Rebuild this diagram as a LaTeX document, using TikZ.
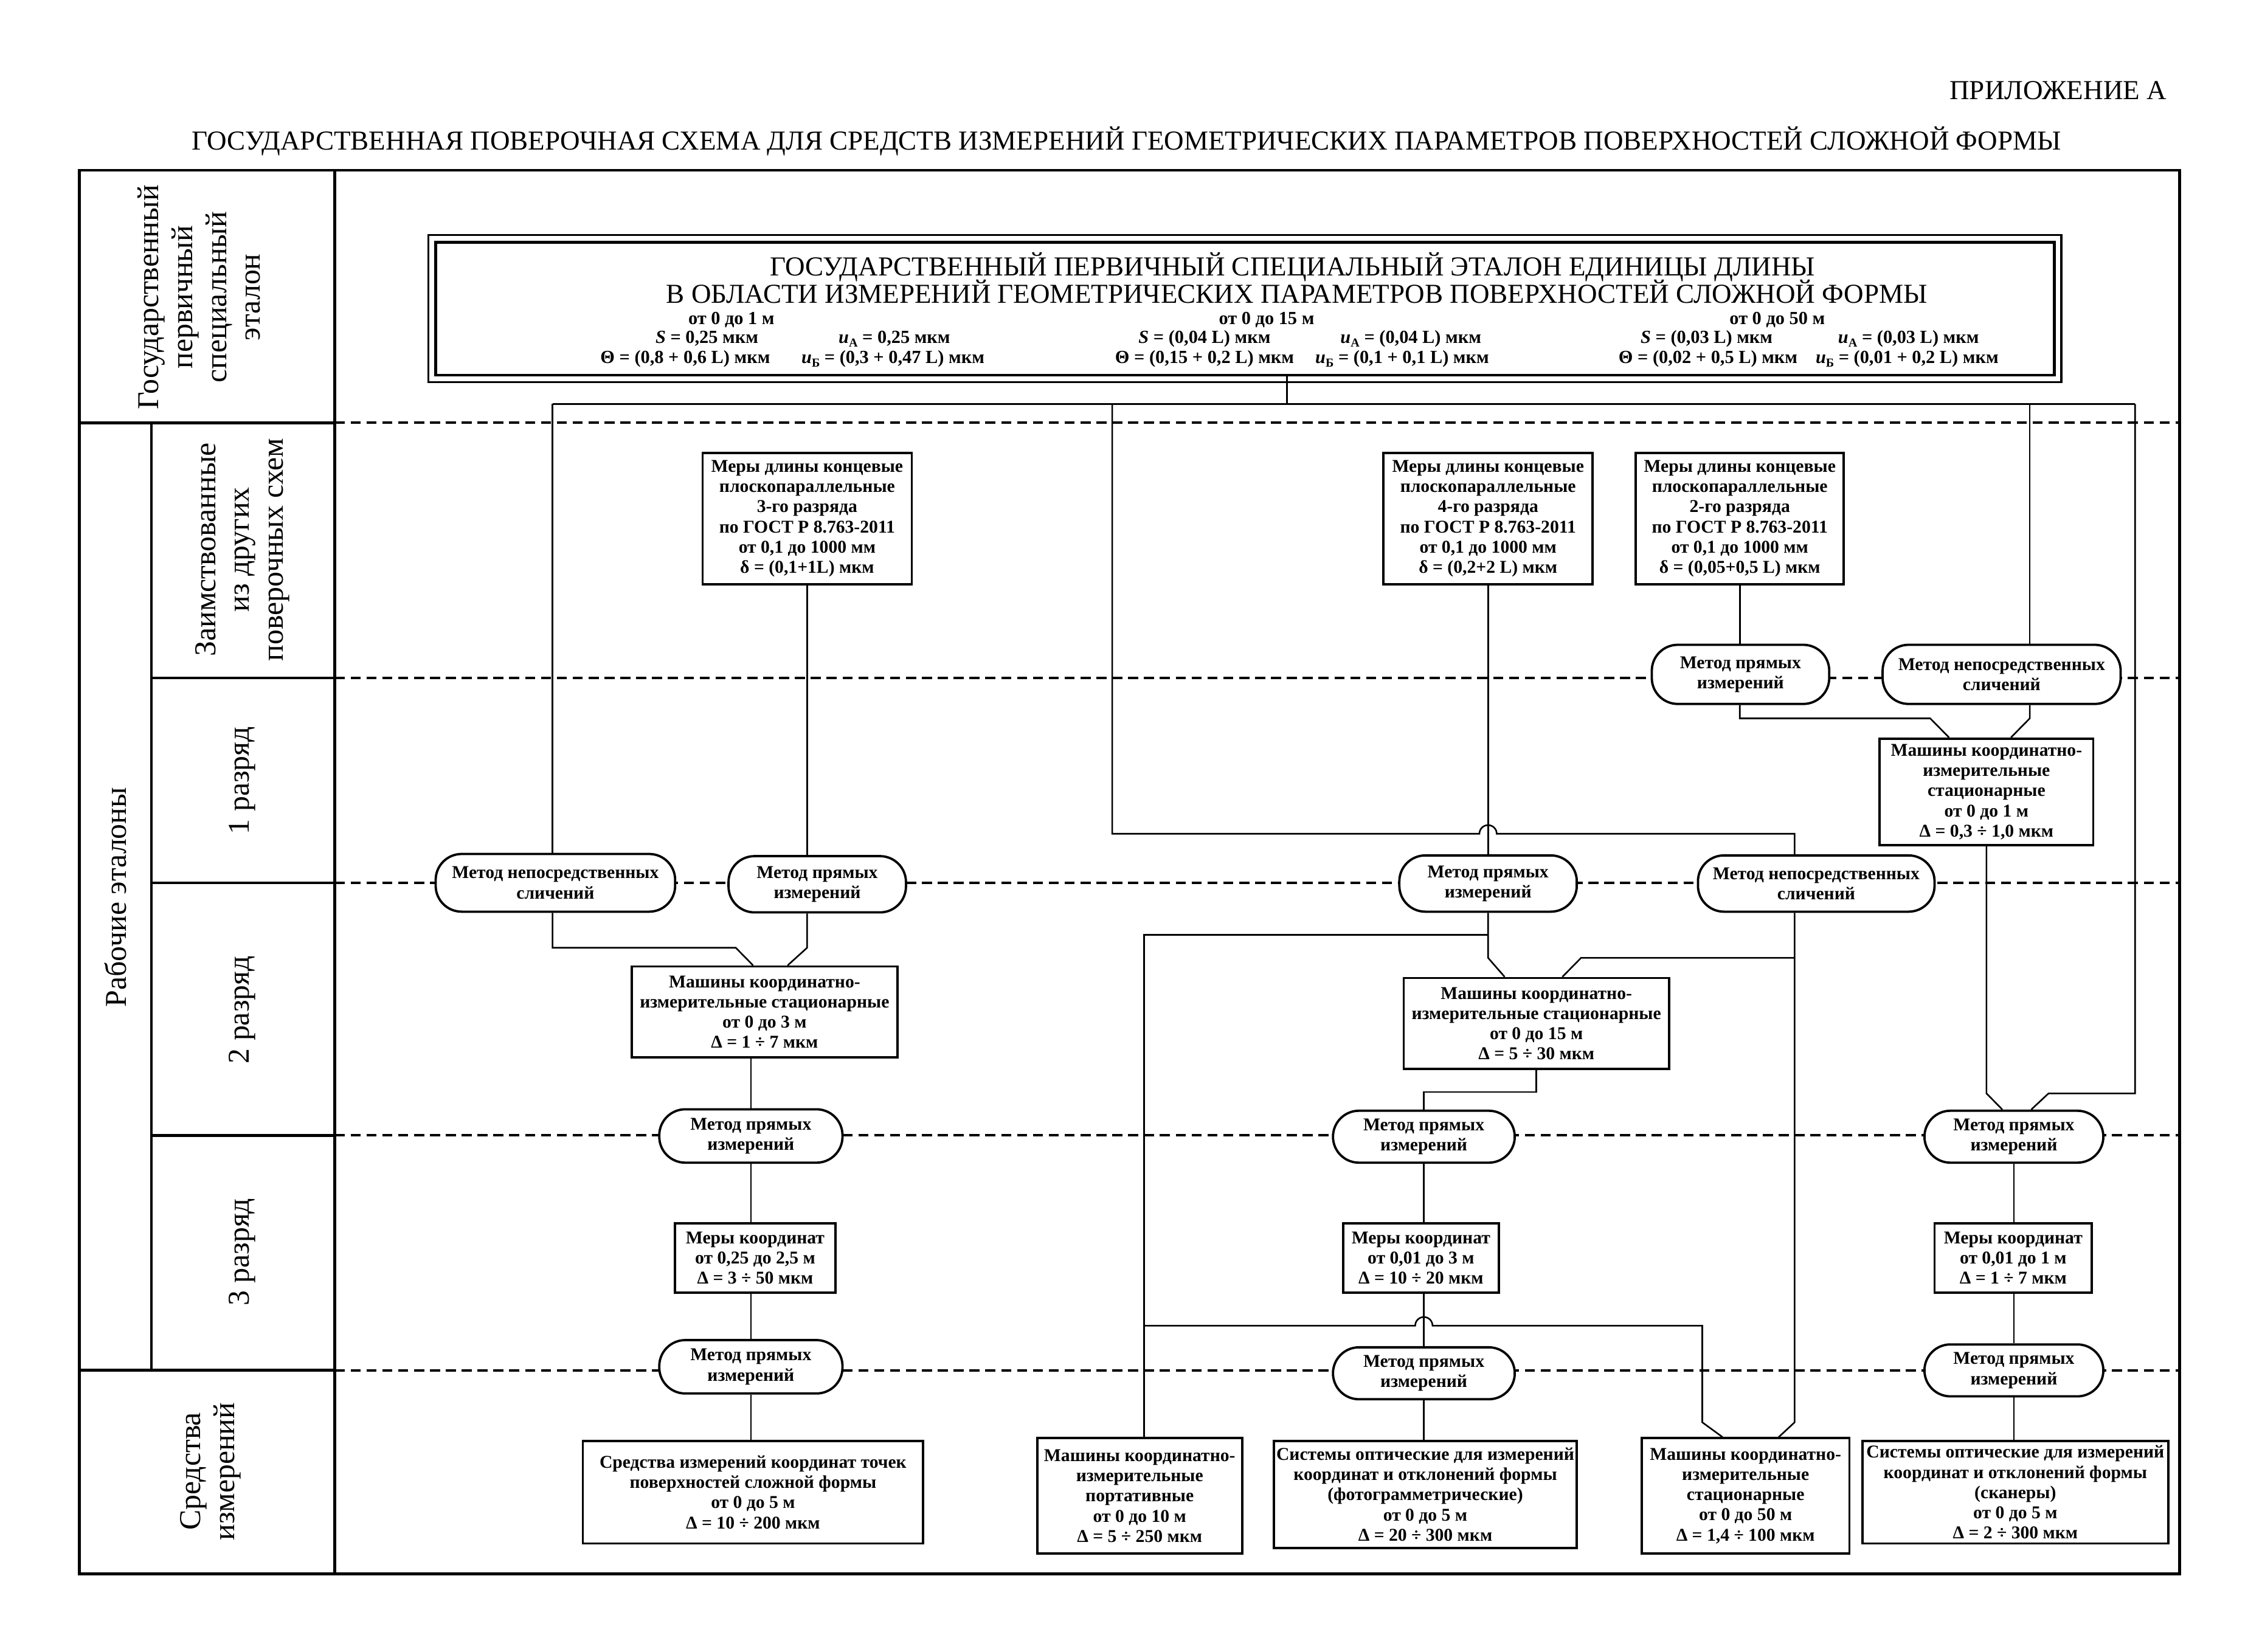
\documentclass[tikz,border=0pt]{standalone}
\usepackage{fontspec}
\setmainfont{Liberation Serif}
\usetikzlibrary{calc}
\newcommand\uAsym{{\itshape u}\raisebox{-2.5pt}{\fontsize{8.5}{8.5}\selectfont А}}
\newcommand\uBsym{{\itshape u}\raisebox{-2.5pt}{\fontsize{8.5}{8.5}\selectfont Б}}
\tikzset{
  box/.style={draw, line width=1.6pt, fill=white, align=center, inner sep=0pt, font=\bfseries\fontsize{12.5}{14}\selectfont},
  meth/.style={box, rounded corners=18pt},
  conn/.style={line width=1.1pt, line join=miter},
  frameline/.style={line width=2pt},
  rowline/.style={line width=1.4pt, dash pattern=on 7pt off 4pt},
  lab/.style={rotate=90, align=center, font=\fontsize{21}{23.5}\selectfont, inner sep=0pt},
  ptitle/.style={anchor=base, inner sep=0pt, font=\fontsize{19}{19}\selectfont},
  psub/.style={anchor=base, inner sep=0pt, font=\bfseries\fontsize{12.8}{13}\selectfont},
  head/.style={anchor=base, inner sep=0pt, font=\fontsize{19}{19}\selectfont}
}
\begin{document}
\begin{tikzpicture}[x=1pt,y=-1pt]
\useasboundingbox (0,0) rectangle (1568,1145);
\fill[white] (0,0) rectangle (1568,1145);

% header
\node[head, anchor=base east] (app) at (1502,69) {ПРИЛОЖЕНИЕ А};
\node[head] (title) at (781,104) {ГОСУДАРСТВЕННАЯ ПОВЕРОЧНАЯ СХЕМА ДЛЯ СРЕДСТВ ИЗМЕРЕНИЙ ГЕОМЕТРИЧЕСКИХ ПАРАМЕТРОВ ПОВЕРХНОСТЕЙ СЛОЖНОЙ ФОРМЫ};

% dashed row lines
\foreach \yy in {293,470,612,787,950} \draw[rowline] (232,\yy) -- (1511,\yy);

% frame
\draw[frameline] (55,118) rectangle (1511,1091);
\draw[frameline] (232,118) -- (232,1091);
\draw[frameline] (55,293) -- (232,293);
\draw[frameline] (105,293) -- (105,950);
\draw[frameline] (105,470) -- (232,470);
\draw[frameline] (105,612) -- (232,612);
\draw[frameline] (105,787) -- (232,787);
\draw[frameline] (55,950) -- (232,950);

% left labels
\node[lab] (l0) at (138,206) {Государственный\\первичный\\специальный\\эталон};
\node[lab] (l1) at (80,622) {Рабочие эталоны};
\node[lab] (l2) at (168,381) {Заимствованные\\из других\\поверочных схем};
\node[lab] (l3) at (168,541) {1 разряд};
\node[lab] (l4) at (168,700) {2 разряд};
\node[lab] (l5) at (168,868) {3 разряд};
\node[lab] (l6) at (146,1020) {Средства\\измерений};

% primary etalon
\node[draw, line width=1.8pt, fill=white, minimum width=1122pt, minimum height=92pt, inner sep=0pt] (PB) at (863,214) {};
\draw[line width=1.3pt] ([shift={(-4pt,4pt)}]PB.north west) rectangle ([shift={(4pt,-4pt)}]PB.south east);
\node[ptitle] (pt1) at (896,191) {ГОСУДАРСТВЕННЫЙ ПЕРВИЧНЫЙ СПЕЦИАЛЬНЫЙ ЭТАЛОН ЕДИНИЦЫ ДЛИНЫ};
\node[ptitle] (pt2) at (899,210) {В ОБЛАСТИ ИЗМЕРЕНИЙ ГЕОМЕТРИЧЕСКИХ ПАРАМЕТРОВ ПОВЕРХНОСТЕЙ СЛОЖНОЙ ФОРМЫ};
\node[psub] (s1a) at (507,225) {от 0 до 1 м};
\node[psub] (s1b) at (490,238) {{\itshape S} = 0,25 мкм};
\node[psub] (s1c) at (620,238) {\uAsym{} = 0,25 мкм};
\node[psub] (s1d) at (475,252) {Θ = (0,8 + 0,6 L) мкм};
\node[psub] (s1e) at (619,252) {\uBsym{} = (0,3 + 0,47 L) мкм};
\node[psub] (s2a) at (878,225) {от 0 до 15 м};
\node[psub] (s2b) at (835,238) {{\itshape S} = (0,04 L) мкм};
\node[psub] (s2c) at (978,238) {\uAsym{} = (0,04 L) мкм};
\node[psub] (s2d) at (835,252) {Θ = (0,15 + 0,2 L) мкм};
\node[psub] (s2e) at (972,252) {\uBsym{} = (0,1 + 0,1 L) мкм};
\node[psub] (s3a) at (1232,225) {от 0 до 50 м};
\node[psub] (s3b) at (1183,238) {{\itshape S} = (0,03 L) мкм};
\node[psub] (s3c) at (1323,238) {\uAsym{} = (0,03 L) мкм};
\node[psub] (s3d) at (1184,252) {Θ = (0,02 + 0,5 L) мкм};
\node[psub] (s3e) at (1322,252) {\uBsym{} = (0,01 + 0,2 L) мкм};

% borrowed standards
\node[box, minimum width=145pt, minimum height=91pt] (A3) at (559.5,359.5) {Меры длины концевые\\плоскопараллельные\\3-го разряда\\по ГОСТ Р 8.763-2011\\от 0,1 до 1000 мм\\δ = (0,1+1L) мкм};
\node[box, minimum width=145pt, minimum height=91pt] (A4) at (1031.5,359.5) {Меры длины концевые\\плоскопараллельные\\4-го разряда\\по ГОСТ Р 8.763-2011\\от 0,1 до 1000 мм\\δ = (0,2+2 L) мкм};
\node[box, minimum width=144pt, minimum height=91pt] (A2) at (1206,359.5) {Меры длины концевые\\плоскопараллельные\\2-го разряда\\по ГОСТ Р 8.763-2011\\от 0,1 до 1000 мм\\δ = (0,05+0,5 L) мкм};

% methods and machines
\node[meth, minimum width=123pt, minimum height=41pt] (O1) at (1206.5,467.5) {Метод прямых\\измерений};
\node[meth, minimum width=165pt, minimum height=41pt] (O2) at (1387.5,467.5) {Метод непосредственных\\сличений};
\node[box, minimum width=148pt, minimum height=74pt] (M1) at (1377,549) {Машины координатно-\\измерительные\\стационарные\\от 0 до 1 м\\Δ = 0,3 ÷ 1,0 мкм};

\node[meth, minimum width=166pt, minimum height=40pt] (O3) at (385,612) {Метод непосредственных\\сличений};
\node[meth, minimum width=123pt, minimum height=39pt] (O4) at (566.5,613) {Метод прямых\\измерений};
\node[meth, minimum width=123pt, minimum height=39pt] (O5) at (1031.5,612.5) {Метод прямых\\измерений};
\node[meth, minimum width=164pt, minimum height=39pt] (O6) at (1259,612.5) {Метод непосредственных\\сличений};

\node[box, minimum width=184pt, minimum height=63pt] (M2) at (530,701.5) {Машины координатно-\\измерительные стационарные\\от 0 до 3 м\\Δ = 1 ÷ 7 мкм};
\node[box, minimum width=184pt, minimum height=63pt] (M3) at (1065,709.5) {Машины координатно-\\измерительные стационарные\\от 0 до 15 м\\Δ = 5 ÷ 30 мкм};

\node[meth, minimum width=127pt, minimum height=37pt] (O7) at (520.5,787.5) {Метод прямых\\измерений};
\node[meth, minimum width=126pt, minimum height=36pt] (O9) at (987,788) {Метод прямых\\измерений};
\node[meth, minimum width=124pt, minimum height=36pt] (O8) at (1396,788) {Метод прямых\\измерений};

\node[box, minimum width=111pt, minimum height=48pt] (K1) at (523.5,872) {Меры координат\\от 0,25 до 2,5 м\\Δ = 3 ÷ 50 мкм};
\node[box, minimum width=108pt, minimum height=48pt] (K2) at (985,872) {Меры координат\\от 0,01 до 3 м\\Δ = 10 ÷ 20 мкм};
\node[box, minimum width=109pt, minimum height=48pt] (K3) at (1395.5,872) {Меры координат\\от 0,01 до 1 м\\Δ = 1 ÷ 7 мкм};

\node[meth, minimum width=127pt, minimum height=37pt] (O10) at (520.5,947.5) {Метод прямых\\измерений};
\node[meth, minimum width=126pt, minimum height=36pt] (O11) at (987,952) {Метод прямых\\измерений};
\node[meth, minimum width=124pt, minimum height=36pt] (O12) at (1396,950) {Метод прямых\\измерений};

\node[box, minimum width=236pt, minimum height=71pt] (B1) at (522,1034.5) {Средства измерений координат точек\\поверхностей сложной формы\\от 0 до 5 м\\Δ = 10 ÷ 200 мкм};
\node[box, minimum width=142pt, minimum height=80pt] (M4) at (790,1037) {Машины координатно-\\измерительные\\портативные\\от 0 до 10 м\\Δ = 5 ÷ 250 мкм};
\node[box, minimum width=210pt, minimum height=74pt] (B3) at (988,1036) {Системы оптические для измерений\\координат и отклонений формы\\(фотограмметрические)\\от 0 до 5 м\\Δ = 20 ÷ 300 мкм};
\node[box, minimum width=144pt, minimum height=80pt] (M5) at (1210,1037) {Машины координатно-\\измерительные\\стационарные\\от 0 до 50 м\\Δ = 1,4 ÷ 100 мкм};
\node[box, minimum width=212pt, minimum height=71pt] (B4) at (1397,1034.5) {Системы оптические для измерений\\координат и отклонений формы\\(сканеры)\\от 0 до 5 м\\Δ = 2 ÷ 300 мкм};

% junction coordinates
\coordinate (bus0) at (892,280);
\coordinate (busL) at (383,280);
\coordinate (busR) at (1480,280);
\coordinate (b2) at (771,280);
\coordinate (b3) at (1407,280);
\coordinate (c1) at (771,578);
\coordinate (c2) at (1244,578);
\coordinate (c3) at (1480,758);
\coordinate (c4) at (1420,758);
\coordinate (c5) at (1338,498);
\coordinate (c7) at (510,657);
\coordinate (c8) at (1096,664);
\coordinate (c9) at (793,648);
\coordinate (c10) at (1244,986);
\coordinate (c11) at (1180,919);
\coordinate (c12) at (987,757);

% connectors
\draw[conn] (PB.south -| bus0) -- (bus0);
\draw[conn] (busL) -- (busR);
\draw[conn] (busL) -- (busL |- O3.north);
\draw[conn] (b2) -- (c1) -- ([xshift=-6pt]A4.south |- c1) arc[start angle=180, end angle=0, radius=6pt] -- (c2) -- (c2 |- O6.north);
\draw[conn] (b3) -- (b3 |- O2.north);
\draw[conn] (busR) -- (c3) -- (c4) -- ([xshift=12pt]O8.north);

\draw[conn] (A3.south) -- (A3.south |- O4.north);
\draw[conn] (A4.south) -- (O5.north);
\draw[conn] (A2.south) -- (A2.south |- O1.north);

\draw[conn] (A2.south |- O1.south) -- (A2.south |- c5) -- (c5) -- ([xshift=-26pt]M1.north);
\draw[conn] (b3 |- O2.south) -- (b3 |- c5) -- ([xshift=17pt]M1.north);
\draw[conn] (M1.south) -- (M1.south |- c3) -- ([xshift=-8pt]O8.north);

\draw[conn] (busL |- O3.south) -- (busL |- c7) -- (c7) -- ([xshift=-8pt]M2.north);
\draw[conn] (A3.south |- O4.south) -- (A3.south |- c7) -- ([xshift=16pt]M2.north);

\draw[conn] (O5.south) -- (O5.south |- c8) -- ([xshift=-22pt]M3.north);
\draw[conn] (O5.south |- c9) -- (c9) -- (c9 |- M4.north);
\draw[conn] (c2 |- O6.south) -- (c10) -- ([xshift=23pt]M5.north);
\draw[conn] (c2 |- c8) -- (c8) -- ([xshift=18pt]M3.north);
\draw[conn] (c9 |- c11) -- ([xshift=-6pt]O9.south |- c11) arc[start angle=180, end angle=0, radius=6pt] -- (c11) -- (c11 |- c10) -- ([xshift=-16pt]M5.north);

\draw[conn] (O7.north |- M2.south) -- (O7.north);
\draw[conn] (M3.south) -- (M3.south |- c12) -- (c12) -- (O9.north);
\draw[conn] (O7.south) -- (O7.south |- K1.north);
\draw[conn] (O9.south) -- (O9.south |- K2.north);
\draw[conn] (O8.south) -- (O8.south |- K3.north);
\draw[conn] (O10.north |- K1.south) -- (O10.north);
\draw[conn] (O11.north |- K2.south) -- (O11.north);
\draw[conn] (O12.north |- K3.south) -- (O12.north);
\draw[conn] (O10.south) -- (O10.south |- B1.north);
\draw[conn] (O11.south) -- (O11.south |- B3.north);
\draw[conn] (O12.south) -- (O12.south |- B4.north);
\end{tikzpicture}
\end{document}
